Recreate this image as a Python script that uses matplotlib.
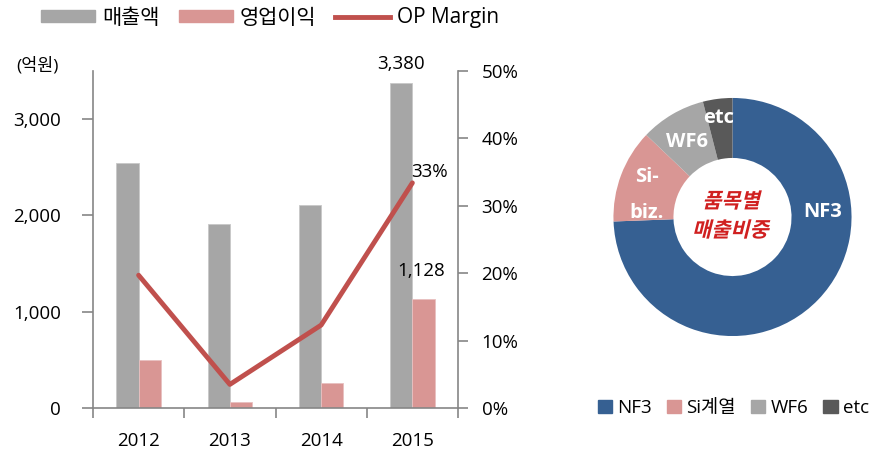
import matplotlib
matplotlib.use("Agg")
import matplotlib.pyplot as plt
import numpy as np
from matplotlib.font_manager import FontProperties
from matplotlib.lines import Line2D
from matplotlib.patches import Patch, PathPatch
from matplotlib.textpath import TextPath
from matplotlib.transforms import Affine2D, IdentityTransform

plt.rcParams["font.family"] = ["Open Sans", "Noto Sans CJK KR", "DejaVu Sans"]

years = ["2012", "2013", "2014", "2015"]
sales = [2540, 1910, 2110, 3380]
op_profit = [500, 66, 260, 1128]
op_margin = [19.7, 3.5, 12.3, 33.4]

mix_labels = ["NF3", "Si계열", "WF6", "etc"]
mix_inner = ["NF3", "Si-\n\nbiz.", "WF6", "etc"]
mix_share = [74.4, 12.7, 8.9, 4.0]

GRAY = "#A6A6A6"
PINK = "#D99694"
RED = "#C0504D"
SPINE = "#868686"
mix_colors = ["#366092", "#D99694", "#A6A6A6", "#595959"]

W, H = 877, 454
fig = plt.figure(figsize=(W / 100, H / 100), dpi=100)


def px_axes(x0, y0, x1, y1):
    # pixel box (top-left origin) -> figure axes
    return fig.add_axes([x0 / W, 1 - y1 / H, (x1 - x0) / W, (y1 - y0) / H])


def slanted_text(txt, px, py, size, color, skew=14):
    # fake italic for the CJK font (no italic face installed)
    prop = FontProperties(family="Noto Sans CJK KR", weight="bold")
    tp = TextPath((0, 0), txt, size=size, prop=prop)
    ext = tp.get_extents()
    k = fig.dpi / 72
    tr = (Affine2D()
          .translate(-(ext.x0 + ext.x1) / 2, -(ext.y0 + ext.y1) / 2)
          .skew_deg(skew, 0)
          .scale(k)
          .translate(px, H - py))
    fig.patches.append(PathPatch(tr.transform_path(tp), color=color, lw=0,
                                 transform=IdentityTransform()))


# ---- combo chart ----
ax = px_axes(93, 71, 458, 408)
x = np.arange(len(years))
bw = 0.245
ax.bar(x - bw / 2, sales, bw, color=GRAY, edgecolor="#C8C8C8", linewidth=0.6)
ax.bar(x + bw / 2, op_profit, bw, color=PINK, edgecolor="#E8C0C0", linewidth=0.6)
ax.set_xlim(-0.5, len(years) - 0.5)
ax.set_ylim(0, 3500)
ax.set_yticks([0, 1000, 2000, 3000])
ax.set_yticklabels(["0", "1,000", "2,000", "3,000"])
ax.set_xticks(x)
ax.set_xticklabels(years)
ax.set_xticks(np.arange(len(years) + 1) - 0.5, minor=True)
ax.tick_params(axis="x", which="major", length=0, pad=17, labelsize=13.5)
ax.tick_params(axis="x", which="minor", length=7, color=SPINE, width=1.2, direction="out")
ax.tick_params(axis="y", length=8, color=SPINE, width=1.2, labelsize=13.5, pad=15)
for s in ["top", "right"]:
    ax.spines[s].set_visible(False)
for s in ["left", "bottom"]:
    ax.spines[s].set_color(SPINE)
    ax.spines[s].set_linewidth(1.2)

ax2 = ax.twinx()
ax2.plot(x, op_margin, color=RED, linewidth=3.5, solid_capstyle="round")
ax2.set_ylim(0, 50)
ax2.set_yticks([0, 10, 20, 30, 40, 50])
ax2.set_yticklabels([f"{v}%" for v in [0, 10, 20, 30, 40, 50]])
ax2.tick_params(axis="y", length=7, color=SPINE, width=1.2, labelsize=13.5, pad=10)
for s in ["top", "left", "bottom"]:
    ax2.spines[s].set_visible(False)
ax2.spines["right"].set_color(SPINE)
ax2.spines["right"].set_linewidth(1.2)

ax.text(x[3] - bw / 2, sales[3] + 196, f"{sales[3]:,}", ha="center", va="center", fontsize=13.5)
ax.text(x[3] + 0.1, op_profit[3] + 296, f"{op_profit[3]:,}", ha="center", va="center", fontsize=13.5)
ax2.text(x[3] + 0.19, op_margin[3] + 1.6, f"{op_margin[3]:.0f}%", ha="center", va="center", fontsize=13.5)
fig.text(37 / W, 1 - 66 / H, "(억원)", ha="center", va="center", fontsize=12.5)

handles = [
    Patch(color=GRAY),
    Patch(color=PINK),
    Line2D([0], [0], color=RED, linewidth=3.5),
]
fig.legend(handles, ["매출액", "영업이익", "OP Margin"], loc="center",
           bbox_to_anchor=(270 / W, 1 - 18 / H), ncol=3, frameon=False,
           fontsize=15, handlelength=2.6, handleheight=0.5, handletextpad=0.35,
           columnspacing=0.9)

# ---- donut ----
cx, cy, r = 732.5, 217, 120
pax = px_axes(cx - r, cy - r, cx + r, cy + r)
wedges, _ = pax.pie(mix_share, colors=mix_colors, startangle=90, counterclock=False,
                    radius=0.992, wedgeprops=dict(width=0.5, linewidth=0))
pax.set_xlim(-1, 1)
pax.set_ylim(-1, 1)
pax.set_aspect("equal")

label_pos = [(823, 212), (647, 195), (687, 142), (719, 118)]
for txt, (lx, ly) in zip(mix_inner, label_pos):
    fig.text(lx / W, 1 - ly / H, txt, ha="center", va="center", color="white",
             fontsize=14.5, fontweight="bold", linespacing=0.85)
slanted_text("품목별", cx, 200, 15, "#D02020")
slanted_text("매출비중", cx, 229, 15, "#D02020")

mix_handles = [Patch(color=c) for c in mix_colors]
fig.legend(mix_handles, mix_labels, loc="center left", bbox_to_anchor=(590 / W, 1 - 408 / H),
           ncol=4, frameon=False, fontsize=13.5, handlelength=0.75, handleheight=0.75,
           handletextpad=0.3, columnspacing=0.8, borderaxespad=0)

fig.savefig("out.png", dpi=100)
